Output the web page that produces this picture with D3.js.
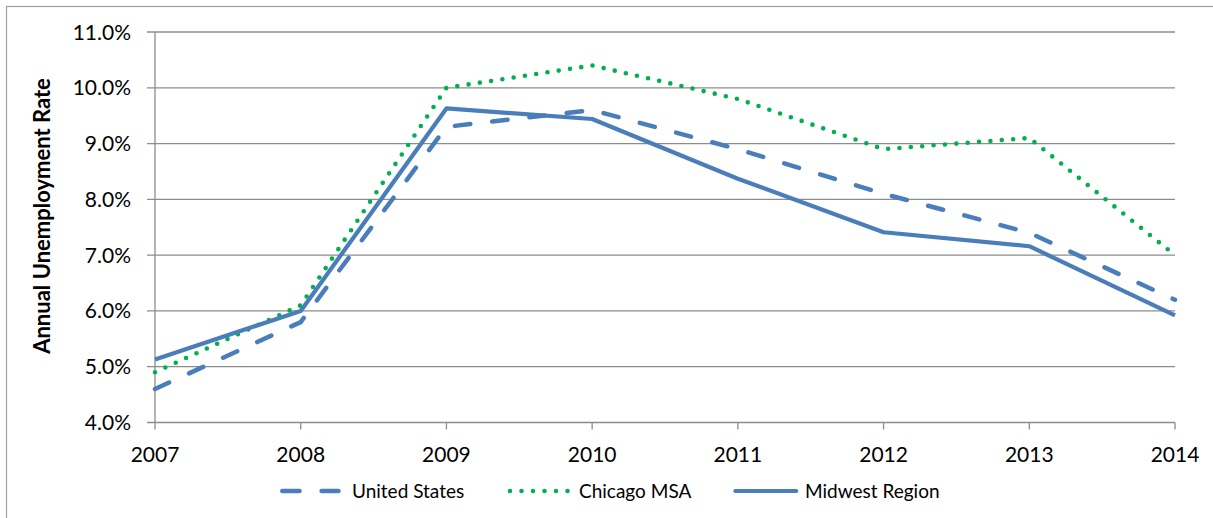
<!DOCTYPE html>
<html>
<head>
<meta charset="utf-8">
<script src="https://cdn.jsdelivr.net/npm/d3@7"></script>
<style>
  body { margin: 0; background: #fff; }
  text { font-family: Lato, "Open Sans", sans-serif; fill: #000; }
</style>
</head>
<body>
<svg class="chart"></svg>
<script>
// data
const years = [2007, 2008, 2009, 2010, 2011, 2012, 2013, 2014];
const unitedStates = [4.6, 5.8, 9.3, 9.6, 8.9, 8.1, 7.4, 6.2];
const chicagoMSA = [4.9, 6.1, 10.0, 10.4, 9.8, 8.9, 9.1, 7.0];
const midwestRegion = [5.13, 6.0, 9.63, 9.44, 8.37, 7.41, 7.16, 5.92];
const yTicks = [4, 5, 6, 7, 8, 9, 10, 11];
const seriesNames = ["United States", "Chicago MSA", "Midwest Region"];

const width = 1213, height = 518;
const plotLeft = 155, plotRight = 1175, plotTop = 32, plotBottom = 422.5;

const blue = "#4a7ebb", green = "#00b050", grid = "#8c8c8c";

const chart = d3.select(".chart")
  .attr("width", width)
  .attr("height", height);

// outer chart border (runs off the right and bottom edges)
chart.append("rect")
  .attr("x", 6.5).attr("y", 6.5)
  .attr("width", width + 20).attr("height", height + 20)
  .attr("fill", "none")
  .attr("stroke", "#a0a0a0")
  .attr("stroke-width", 1.2);

const x = d3.scaleLinear().domain([2007, 2014]).range([plotLeft, plotRight]);
const y = d3.scaleLinear().domain([4, 11]).range([plotBottom, plotTop]);

// horizontal gridlines
chart.append("g")
  .selectAll("line")
  .data(yTicks)
  .enter()
  .append("line")
    .attr("x1", plotLeft - 8).attr("x2", plotRight)
    .attr("y1", d => y(d)).attr("y2", d => y(d))
    .attr("stroke", grid)
    .attr("stroke-width", 1.3);

// y axis line
chart.append("line")
  .attr("x1", plotLeft).attr("x2", plotLeft)
  .attr("y1", plotTop).attr("y2", plotBottom)
  .attr("stroke", grid).attr("stroke-width", 1.3);

// x ticks
chart.append("g")
  .selectAll("line")
  .data(years)
  .enter()
  .append("line")
    .attr("x1", d => x(d)).attr("x2", d => x(d))
    .attr("y1", plotBottom).attr("y2", plotBottom + 7)
    .attr("stroke", grid).attr("stroke-width", 1.3);

// y tick labels
chart.append("g")
  .selectAll("text")
  .data(yTicks)
  .enter()
  .append("text")
    .attr("x", 131)
    .attr("y", d => y(d))
    .attr("dy", "0.36em")
    .attr("text-anchor", "end")
    .style("font-size", "21px")
    .text(d => d3.format(".1f")(d) + "%");

// x tick labels
chart.append("g")
  .selectAll("text")
  .data(years)
  .enter()
  .append("text")
    .attr("x", d => x(d))
    .attr("y", 461.5)
    .attr("text-anchor", "middle")
    .style("font-size", "21px")
    .text(d => d);

// y axis title
chart.append("text")
  .attr("transform", "translate(50,216) rotate(-90)")
  .attr("text-anchor", "middle")
  .style("font-size", "22px")
  .style("font-weight", "bold")
  .text("Annual Unemployment Rate");

const styles = [
  { color: blue, width: 4.5, dash: "15.5,22", cap: "round" },
  { color: green, width: 4.6, dash: "0,11.4", cap: "round" },
  { color: blue, width: 4.2, dash: null, cap: "butt" }
];
const series = [unitedStates, chicagoMSA, midwestRegion];

const line = d3.line()
  .x((d, i) => x(years[i]))
  .y(d => y(d));

// draw series, solid last so it sits on top
[1, 0, 2].forEach(k => {
  chart.append("path")
    .datum(series[k])
    .attr("d", line)
    .attr("fill", "none")
    .attr("stroke", styles[k].color)
    .attr("stroke-width", styles[k].width)
    .attr("stroke-dasharray", styles[k].dash)
    .attr("stroke-linecap", styles[k].cap)
    .attr("stroke-linejoin", "round");
});

// legend: sample start/end and text start
const legendSample = [[282.3, 338.5], [510, 568], [735.4, 796.2]];
const legendDash = ["17.2,22.1", "0,11.5", null];
const legendText = [352, 579, 805];

const legend = chart.append("g")
  .selectAll("g")
  .data(seriesNames)
  .enter()
  .append("g")
    .attr("transform", "translate(0, 491)");

legend.append("line")
  .attr("x1", (d, i) => legendSample[i][0])
  .attr("x2", (d, i) => legendSample[i][1])
  .attr("y1", 0).attr("y2", 0)
  .attr("stroke", (d, i) => styles[i].color)
  .attr("stroke-width", (d, i) => styles[i].width)
  .attr("stroke-dasharray", (d, i) => legendDash[i])
  .attr("stroke-linecap", "round");

legend.append("text")
  .attr("x", (d, i) => legendText[i])
  .attr("dy", "0.36em")
  .style("font-size", "19px")
  .text(d => d);
</script>
</body>
</html>
